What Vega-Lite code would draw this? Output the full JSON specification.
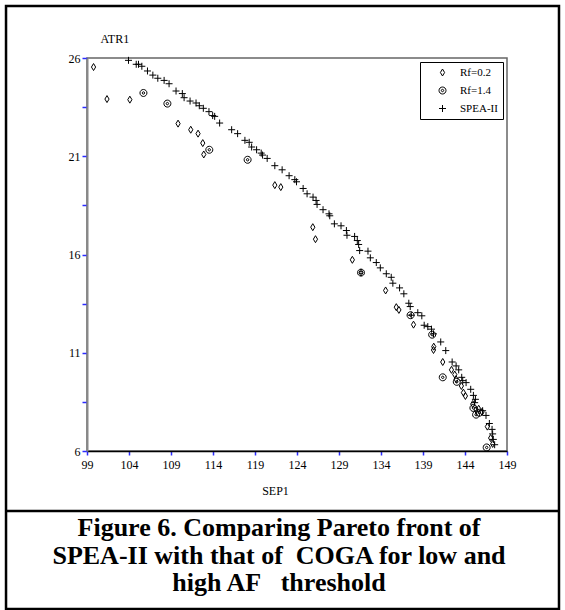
{
  "$schema": "https://vega.github.io/schema/vega-lite/v6.json",
  "width": 420,
  "height": 393,
  "autosize": {"type": "none"},
  "padding": {"left": 87, "top": 58, "right": 58, "bottom": 159},
  "background": "white",
  "config": {
    "view": {"stroke": "#666", "strokeWidth": 1.5},
    "font": "Liberation Serif"
  },
  "title": {
    "text": ["Figure 6. Comparing Pareto front of", "SPEA-II with that of\u00a0 COGA for low and", "high AF\u00a0\u00a0 threshold"],
    "orient": "bottom",
    "anchor": "middle",
    "frame": "group",
    "dx": -18,
    "offset": -95,
    "font": "Liberation Serif",
    "fontSize": 26,
    "fontWeight": "bold",
    "lineHeight": 27.5,
    "color": "black",
    "baseline": "top"
  },
  "data": {
    "values": [
      {"series": "SPEA-II", "SEP": 103.94, "ATR": 25.88},
      {"series": "SPEA-II", "SEP": 104.86, "ATR": 25.68},
      {"series": "SPEA-II", "SEP": 105.13, "ATR": 25.68},
      {"series": "SPEA-II", "SEP": 105.53, "ATR": 25.58},
      {"series": "SPEA-II", "SEP": 106.2, "ATR": 25.34},
      {"series": "SPEA-II", "SEP": 106.84, "ATR": 25.13},
      {"series": "SPEA-II", "SEP": 107.43, "ATR": 24.97},
      {"series": "SPEA-II", "SEP": 108.18, "ATR": 24.86},
      {"series": "SPEA-II", "SEP": 108.77, "ATR": 24.69},
      {"series": "SPEA-II", "SEP": 109.6, "ATR": 24.32},
      {"series": "SPEA-II", "SEP": 110.35, "ATR": 24.19},
      {"series": "SPEA-II", "SEP": 110.56, "ATR": 23.98},
      {"series": "SPEA-II", "SEP": 111.27, "ATR": 23.81},
      {"series": "SPEA-II", "SEP": 111.98, "ATR": 23.71},
      {"series": "SPEA-II", "SEP": 112.37, "ATR": 23.57},
      {"series": "SPEA-II", "SEP": 112.85, "ATR": 23.44},
      {"series": "SPEA-II", "SEP": 113.52, "ATR": 23.27},
      {"series": "SPEA-II", "SEP": 113.96, "ATR": 23.07},
      {"series": "SPEA-II", "SEP": 114.2, "ATR": 23.03},
      {"series": "SPEA-II", "SEP": 114.79, "ATR": 22.69},
      {"series": "SPEA-II", "SEP": 116.22, "ATR": 22.35},
      {"series": "SPEA-II", "SEP": 116.93, "ATR": 22.15},
      {"series": "SPEA-II", "SEP": 117.8, "ATR": 21.81},
      {"series": "SPEA-II", "SEP": 118.31, "ATR": 21.71},
      {"series": "SPEA-II", "SEP": 118.6, "ATR": 21.47},
      {"series": "SPEA-II", "SEP": 119.19, "ATR": 21.33},
      {"series": "SPEA-II", "SEP": 119.74, "ATR": 21.16},
      {"series": "SPEA-II", "SEP": 119.9, "ATR": 21.06},
      {"series": "SPEA-II", "SEP": 120.45, "ATR": 20.89},
      {"series": "SPEA-II", "SEP": 121.36, "ATR": 20.52},
      {"series": "SPEA-II", "SEP": 122.23, "ATR": 20.31},
      {"series": "SPEA-II", "SEP": 123.06, "ATR": 20.01},
      {"series": "SPEA-II", "SEP": 123.74, "ATR": 19.81},
      {"series": "SPEA-II", "SEP": 123.94, "ATR": 19.7},
      {"series": "SPEA-II", "SEP": 124.73, "ATR": 19.36},
      {"series": "SPEA-II", "SEP": 125.2, "ATR": 19.09},
      {"series": "SPEA-II", "SEP": 125.91, "ATR": 18.92},
      {"series": "SPEA-II", "SEP": 126.27, "ATR": 18.75},
      {"series": "SPEA-II", "SEP": 126.39, "ATR": 18.55},
      {"series": "SPEA-II", "SEP": 127.1, "ATR": 18.28},
      {"series": "SPEA-II", "SEP": 127.81, "ATR": 18.07},
      {"series": "SPEA-II", "SEP": 127.9, "ATR": 17.97},
      {"series": "SPEA-II", "SEP": 128.45, "ATR": 17.56},
      {"series": "SPEA-II", "SEP": 129.24, "ATR": 17.46},
      {"series": "SPEA-II", "SEP": 129.88, "ATR": 17.22},
      {"series": "SPEA-II", "SEP": 129.95, "ATR": 16.98},
      {"series": "SPEA-II", "SEP": 130.86, "ATR": 16.92},
      {"series": "SPEA-II", "SEP": 131.18, "ATR": 16.71},
      {"series": "SPEA-II", "SEP": 131.34, "ATR": 16.51},
      {"series": "SPEA-II", "SEP": 131.46, "ATR": 16.2},
      {"series": "SPEA-II", "SEP": 132.45, "ATR": 16.17},
      {"series": "SPEA-II", "SEP": 132.73, "ATR": 15.83},
      {"series": "SPEA-II", "SEP": 133.44, "ATR": 15.59},
      {"series": "SPEA-II", "SEP": 133.92, "ATR": 15.32},
      {"series": "SPEA-II", "SEP": 134.63, "ATR": 15.02},
      {"series": "SPEA-II", "SEP": 135.22, "ATR": 14.84},
      {"series": "SPEA-II", "SEP": 135.41, "ATR": 14.54},
      {"series": "SPEA-II", "SEP": 136.21, "ATR": 14.3},
      {"series": "SPEA-II", "SEP": 136.72, "ATR": 14.0},
      {"series": "SPEA-II", "SEP": 137.31, "ATR": 13.52},
      {"series": "SPEA-II", "SEP": 137.48, "ATR": 13.35},
      {"series": "SPEA-II", "SEP": 137.6, "ATR": 12.91},
      {"series": "SPEA-II", "SEP": 138.38, "ATR": 13.04},
      {"series": "SPEA-II", "SEP": 138.86, "ATR": 12.88},
      {"series": "SPEA-II", "SEP": 139.14, "ATR": 12.4},
      {"series": "SPEA-II", "SEP": 139.57, "ATR": 12.33},
      {"series": "SPEA-II", "SEP": 140.01, "ATR": 12.2},
      {"series": "SPEA-II", "SEP": 140.25, "ATR": 11.96},
      {"series": "SPEA-II", "SEP": 141.11, "ATR": 11.55},
      {"series": "SPEA-II", "SEP": 141.71, "ATR": 11.11},
      {"series": "SPEA-II", "SEP": 142.47, "ATR": 10.53},
      {"series": "SPEA-II", "SEP": 142.94, "ATR": 10.33},
      {"series": "SPEA-II", "SEP": 143.25, "ATR": 10.13},
      {"series": "SPEA-II", "SEP": 143.61, "ATR": 9.75},
      {"series": "SPEA-II", "SEP": 143.73, "ATR": 9.58},
      {"series": "SPEA-II", "SEP": 144.13, "ATR": 9.48},
      {"series": "SPEA-II", "SEP": 144.68, "ATR": 9.14},
      {"series": "SPEA-II", "SEP": 145.0, "ATR": 8.83},
      {"series": "SPEA-II", "SEP": 145.24, "ATR": 8.63},
      {"series": "SPEA-II", "SEP": 145.15, "ATR": 8.46},
      {"series": "SPEA-II", "SEP": 146.1, "ATR": 8.05},
      {"series": "SPEA-II", "SEP": 146.5, "ATR": 7.81},
      {"series": "SPEA-II", "SEP": 146.9, "ATR": 7.4},
      {"series": "SPEA-II", "SEP": 147.22, "ATR": 7.1},
      {"series": "SPEA-II", "SEP": 147.29, "ATR": 6.87},
      {"series": "SPEA-II", "SEP": 147.37, "ATR": 6.59},
      {"series": "SPEA-II", "SEP": 147.53, "ATR": 6.32},
      {"series": "Rf=0.2", "SEP": 99.78, "ATR": 25.54},
      {"series": "Rf=0.2", "SEP": 101.38, "ATR": 23.91},
      {"series": "Rf=0.2", "SEP": 104.1, "ATR": 23.88},
      {"series": "Rf=0.2", "SEP": 109.84, "ATR": 22.66},
      {"series": "Rf=0.2", "SEP": 111.35, "ATR": 22.35},
      {"series": "Rf=0.2", "SEP": 112.22, "ATR": 22.15},
      {"series": "Rf=0.2", "SEP": 112.78, "ATR": 21.67},
      {"series": "Rf=0.2", "SEP": 112.9, "ATR": 21.09},
      {"series": "Rf=0.2", "SEP": 121.36, "ATR": 19.53},
      {"series": "Rf=0.2", "SEP": 122.07, "ATR": 19.43},
      {"series": "Rf=0.2", "SEP": 125.88, "ATR": 17.39},
      {"series": "Rf=0.2", "SEP": 126.2, "ATR": 16.78},
      {"series": "Rf=0.2", "SEP": 130.59, "ATR": 15.73},
      {"series": "Rf=0.2", "SEP": 131.62, "ATR": 15.08},
      {"series": "Rf=0.2", "SEP": 134.55, "ATR": 14.17},
      {"series": "Rf=0.2", "SEP": 135.82, "ATR": 13.32},
      {"series": "Rf=0.2", "SEP": 136.13, "ATR": 13.18},
      {"series": "Rf=0.2", "SEP": 137.87, "ATR": 12.43},
      {"series": "Rf=0.2", "SEP": 140.28, "ATR": 11.31},
      {"series": "Rf=0.2", "SEP": 140.25, "ATR": 11.14},
      {"series": "Rf=0.2", "SEP": 141.35, "ATR": 10.53},
      {"series": "Rf=0.2", "SEP": 142.39, "ATR": 10.13},
      {"series": "Rf=0.2", "SEP": 142.78, "ATR": 9.89},
      {"series": "Rf=0.2", "SEP": 142.94, "ATR": 9.65},
      {"series": "Rf=0.2", "SEP": 143.57, "ATR": 9.31},
      {"series": "Rf=0.2", "SEP": 143.81, "ATR": 8.97},
      {"series": "Rf=0.2", "SEP": 144.05, "ATR": 8.8},
      {"series": "Rf=0.2", "SEP": 144.92, "ATR": 8.39},
      {"series": "Rf=0.2", "SEP": 145.32, "ATR": 8.09},
      {"series": "Rf=0.2", "SEP": 145.63, "ATR": 8.15},
      {"series": "Rf=0.2", "SEP": 146.03, "ATR": 7.99},
      {"series": "Rf=0.2", "SEP": 146.66, "ATR": 7.24},
      {"series": "Rf=0.2", "SEP": 147.05, "ATR": 6.66},
      {"series": "Rf=0.2", "SEP": 147.29, "ATR": 6.36},
      {"series": "Rf=1.4", "SEP": 105.72, "ATR": 24.22},
      {"series": "Rf=1.4", "SEP": 108.57, "ATR": 23.68},
      {"series": "Rf=1.4", "SEP": 113.56, "ATR": 21.33},
      {"series": "Rf=1.4", "SEP": 118.12, "ATR": 20.82},
      {"series": "Rf=1.4", "SEP": 131.62, "ATR": 15.08},
      {"series": "Rf=1.4", "SEP": 137.52, "ATR": 12.91},
      {"series": "Rf=1.4", "SEP": 140.09, "ATR": 11.92},
      {"series": "Rf=1.4", "SEP": 141.35, "ATR": 9.75},
      {"series": "Rf=1.4", "SEP": 143.02, "ATR": 9.52},
      {"series": "Rf=1.4", "SEP": 145.0, "ATR": 8.19},
      {"series": "Rf=1.4", "SEP": 145.32, "ATR": 7.85},
      {"series": "Rf=1.4", "SEP": 145.7, "ATR": 7.95},
      {"series": "Rf=1.4", "SEP": 146.58, "ATR": 6.18}
    ]
  },
  "layer": [
    {
      "data": {"values": [{}]},
      "mark": {"type": "rect", "fill": "transparent", "stroke": "black", "strokeWidth": 2.5, "clip": false},
      "encoding": {
        "x": {"datum": 89.36, "type": "quantitative"},
        "x2": {"datum": 155.19},
        "y": {"datum": 28.65, "type": "quantitative"},
        "y2": {"datum": -2.04}
      }
    },
    {
      "data": {"values": [{}]},
      "mark": {"type": "rule", "stroke": "black", "strokeWidth": 2.5, "clip": false},
      "encoding": {
        "x": {"datum": 89.36, "type": "quantitative"},
        "x2": {"datum": 155.19},
        "y": {"datum": 2.947, "type": "quantitative"}
      }
    },
    {
      "mark": {"type": "point", "filled": false, "color": "black", "strokeWidth": 1, "size": 49, "opacity": 1},
      "encoding": {
        "x": {
          "field": "SEP",
          "type": "quantitative",
          "title": "SEP1",
          "scale": {"domain": [99, 149], "nice": false, "zero": false},
          "axis": {
            "values": [99, 101.5, 104, 106.5, 109, 111.5, 114, 116.5, 119, 121.5, 124, 126.5, 129, 131.5, 134, 136.5, 139, 141.5, 144, 146.5, 149],
            "labelExpr": "(datum.value - 99) % 5 == 0 ? datum.label : ''",
            "grid": false,
            "domainColor": "black",
            "domainWidth": 1.5,
            "tickColor": "#2b2bff",
            "tickSize": 4,
            "tickWidth": 1.5,
            "labelFont": "Liberation Serif",
            "labelFontSize": 12,
            "labelColor": "black",
            "labelPadding": 4,
            "labelOverlap": false,
            "labelFlush": false,
            "titleFont": "Liberation Serif",
            "titleFontSize": 12,
            "titleFontWeight": "normal",
            "titleColor": "black",
            "titleX": 188,
            "titleY": 34
          }
        },
        "y": {
          "field": "ATR",
          "type": "quantitative",
          "title": "ATR1",
          "scale": {"domain": [6, 26], "nice": false, "zero": false},
          "axis": {
            "values": [6, 8.5, 11, 13.5, 16, 18.5, 21, 23.5, 26],
            "labelExpr": "(datum.value - 6) % 5 == 0 ? datum.label : ''",
            "grid": false,
            "domainColor": "#888",
            "domainWidth": 2,
            "tickColor": "#2b2bff",
            "tickSize": 5,
            "tickWidth": 1.5,
            "labelFont": "Liberation Serif",
            "labelFontSize": 12,
            "labelColor": "black",
            "labelPadding": 2,
            "labelOverlap": false,
            "labelFlush": false,
            "titleFont": "Liberation Serif",
            "titleFontSize": 12,
            "titleFontWeight": "normal",
            "titleColor": "black",
            "titleAngle": 0,
            "titleAlign": "left",
            "titleBaseline": "alphabetic",
            "titleX": 13,
            "titleY": -16
          }
        },
        "shape": {
          "field": "series",
          "type": "nominal",
          "scale": {
            "domain": ["Rf=0.2", "Rf=1.4", "SPEA-II"],
            "range": [
              "M0,-1L0.6,0L0,1L-0.6,0Z",
              "M-1,0A1,1,0,1,0,1,0A1,1,0,1,0,-1,0ZM-0.35,0A0.35,0.35,0,1,0,0.35,0A0.35,0.35,0,1,0,-0.35,0Z",
              "M-1,0L1,0M0,-1L0,1"
            ]
          },
          "legend": {
            "title": null,
            "orient": "top-right",
            "offset": 4,
            "strokeColor": "black",
            "fillColor": "white",
            "padding": 5,
            "symbolOffset": 12,
            "symbolSize": 49,
            "symbolStrokeColor": "black",
            "symbolFillColor": "transparent",
            "symbolStrokeWidth": 1,
            "labelFont": "Liberation Serif",
            "labelFontSize": 11,
            "labelColor": "black",
            "labelOffset": 12,
            "rowPadding": 6
          }
        }
      }
    }
  ]
}
